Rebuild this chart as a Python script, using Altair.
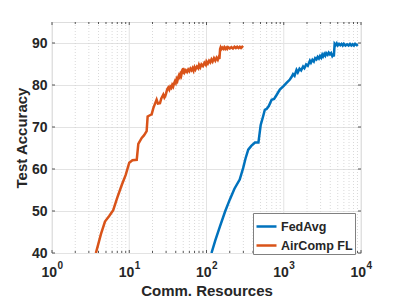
import altair as alt
import pandas as pd

# ---- data ----
aircomp_x = [3.7, 4.3, 4.85, 5.5, 6.2, 7.0, 8.0, 9.0, 10.0, 11.0, 12.5, 13.1, 14.5, 15.5, 16.8, 17.3,
             18.5, 19.5, 20.5, 21.5, 22.6, 23.5, 25, 26, 27.6, 28.5, 29.3,
             30, 31, 32, 33, 34, 35, 36, 37, 38, 39, 40, 41, 42, 43, 44, 45, 46, 47, 48, 49, 50,
             52, 54, 56, 58, 60, 62, 64, 66, 68, 70, 72, 75, 78, 80, 83, 86, 90, 94, 98, 100,
             104, 108, 112, 116, 120, 125, 130, 135, 140, 144, 147, 150, 152, 155, 160, 165,
             170, 175, 180, 185, 190, 200, 210, 220, 230, 240, 250, 260, 270, 280, 290, 298]
aircomp_y = [40.0, 44.5, 47.5, 48.8, 50.2, 53.2, 56.2, 58.6, 61.5, 62.1, 62.2, 66.0, 67.4, 68.0, 69.0, 72.5,
             72.8, 73.0, 74.5, 75.5, 76.5, 75.6, 75.7, 76.8, 77.7, 77.0, 77.4,
             78.0, 79.0, 79.4, 78.9, 79.6, 79.3, 80.0, 79.6, 80.4, 80.9, 80.5, 81.4, 81.0, 81.8, 82.3, 81.9, 82.6, 82.2, 83.0, 82.6, 84.0,
             83.0, 83.5, 83.1, 83.7, 83.3, 83.9, 83.5, 84.0, 83.4, 84.2, 83.7, 84.4, 84.0, 84.8, 84.2, 84.9, 84.5, 85.3, 84.8, 85.6,
             85.1, 85.8, 85.4, 86.1, 85.6, 86.4, 85.8, 86.5, 86.0, 86.6, 86.2, 88.6, 88.9, 88.5, 88.9, 88.6,
             89.0, 88.6, 88.9, 88.6, 89.0, 88.7, 89.0, 88.7, 89.1, 88.8, 89.1, 88.8, 89.1, 88.8, 89.1, 88.9]

fedavg_x = [116, 130, 149, 175, 200, 230, 269, 298, 320, 347, 380, 424, 470, 503, 540, 569, 600, 640,
            697, 750, 800, 890, 1000, 1087, 1200, 1260, 1320, 1380, 1463, 1520, 1600, 1680, 1780,
            1850, 1950, 2050, 2180, 2250, 2350, 2450, 2550, 2650, 2750, 2850, 2950, 3050, 3150, 3230,
            3350, 3450, 3550, 3700, 3820, 3960, 4100, 4250, 4360, 4450, 4560, 4700, 4850, 5000, 5200,
            5400, 5600, 5800, 6000, 6300, 6600, 6900, 7200, 7500, 7800, 8100, 8400, 8800, 9130]
fedavg_y = [40.0, 43.0, 46.3, 50.0, 52.7, 55.3, 57.5, 60.2, 62.5, 64.6, 65.5, 66.3, 66.3, 70.5, 72.5, 74.1, 74.3, 75.0,
            76.5, 76.7, 77.5, 78.9, 79.8, 80.5, 81.3, 81.9, 82.6, 82.2, 83.6, 83.0, 83.9, 83.5, 84.4,
            84.0, 84.9, 84.6, 85.8, 85.3, 86.0, 85.6, 86.4, 86.1, 86.7, 86.3, 86.9, 86.5, 87.2, 86.8,
            87.4, 87.0, 87.6, 87.2, 87.7, 87.3, 87.6, 86.9, 87.2, 86.8, 89.8, 89.5, 89.9, 89.4, 89.8,
            89.5, 89.8, 89.4, 89.8, 89.4, 89.7, 89.4, 89.8, 89.4, 89.7, 89.4, 89.8, 89.5, 89.7]

series_names = ["FedAvg", "AirComp FL"]
series_colors = ["#0072BD", "#D95319"]

major_x = [1, 10, 100, 1000, 10000]
exponents = ["0", "1", "2", "3", "4"]
minor_x = [k * 10 ** e for e in range(4) for k in range(2, 10)]
y_ticks = [40, 50, 60, 70, 80, 90]

# ---- tables ----
df = pd.concat([
    pd.DataFrame({"x": fedavg_x, "y": fedavg_y, "series": "FedAvg"}),
    pd.DataFrame({"x": aircomp_x, "y": aircomp_y, "series": "AirComp FL"}),
])
major_df = pd.DataFrame({"x": major_x, "e": exponents})
minor_df = pd.DataFrame({"x": minor_x})
yt_df = pd.DataFrame({"y": y_ticks})

FONT = "Liberation Sans"
TXT = "#262626"
W, H = 309, 231

xs = alt.Scale(type="log", domain=[1, 10000])
ys = alt.Scale(domain=[40, 95])

X_AXIS = alt.Axis(values=major_x, labels=False, ticks=False, grid=False, domain=False,
                  title="Comm. Resources", titleFont=FONT, titleFontSize=15,
                  titleFontWeight="bold", titleColor=TXT, titlePadding=30)
Y_AXIS = alt.Axis(values=y_ticks, grid=True, gridColor="#e3e3e3", ticks=False, domain=False,
                  labelFont=FONT, labelFontSize=14, labelFontWeight="bold", labelColor=TXT,
                  labelPadding=5, title="Test Accuracy", titleFont=FONT, titleFontSize=15,
                  titleFontWeight="bold", titleColor=TXT, titlePadding=2)


def xenc():
    return alt.X("x:Q", scale=xs, axis=X_AXIS)


def yenc():
    return alt.Y("y:Q", scale=ys, axis=Y_AXIS)


minor_grid = alt.Chart(minor_df).mark_rule(color="#cfcfcf", strokeDash=[1, 2], strokeWidth=0.8).encode(
    x=xenc())
major_grid = alt.Chart(major_df).mark_rule(color="#e3e3e3", strokeWidth=1).encode(x=xenc())

lines = alt.Chart(df).mark_line(strokeWidth=2.5, clip=True).encode(
    x=xenc(),
    y=yenc(),
    color=alt.Color("series:N", scale=alt.Scale(domain=series_names, range=series_colors),
                    legend=alt.Legend(orient="none", legendX=201, legendY=191, title=None,
                                      symbolType="stroke", symbolSize=400, symbolStrokeWidth=2.5,
                                      labelFont=FONT, labelFontSize=12.5, labelFontWeight="bold",
                                      labelColor=TXT, strokeColor="#808080", fillColor="white",
                                      padding=2, rowPadding=1, labelOffset=3)),
)

tick_col = "#555555"
xt_major_b = alt.Chart(major_df).mark_rule(color=tick_col).encode(
    x=xenc(), y=alt.value(H), y2=alt.value(H - 3))
xt_major_t = alt.Chart(major_df).mark_rule(color=tick_col).encode(
    x=xenc(), y=alt.value(0), y2=alt.value(3))
xt_minor_b = alt.Chart(minor_df).mark_rule(color=tick_col).encode(
    x=xenc(), y=alt.value(H), y2=alt.value(H - 2))
xt_minor_t = alt.Chart(minor_df).mark_rule(color=tick_col).encode(
    x=xenc(), y=alt.value(0), y2=alt.value(2))
yt_l = alt.Chart(yt_df).mark_rule(color=tick_col).encode(
    y=yenc(), x=alt.value(0), x2=alt.value(3))
yt_r = alt.Chart(yt_df).mark_rule(color=tick_col).encode(
    y=yenc(), x=alt.value(W), x2=alt.value(W - 3))

lab10 = alt.Chart(major_df).mark_text(align="right", baseline="alphabetic", dx=5, dy=24,
                                      font=FONT, fontSize=14, fontWeight="bold", color=TXT).encode(
    x=xenc(), y=alt.value(H), text=alt.value("10"))
labexp = alt.Chart(major_df).mark_text(align="left", baseline="alphabetic", dx=5.5, dy=16,
                                       font=FONT, fontSize=10, fontWeight="bold", color=TXT).encode(
    x=xenc(), y=alt.value(H), text="e:N")

chart = alt.layer(
    minor_grid, major_grid, lines, xt_major_b, xt_major_t, xt_minor_b, xt_minor_t, yt_l, yt_r,
    lab10, labexp
).properties(
    width=W, height=H, autosize="none",
    padding={"left": 44, "top": 14, "right": 30, "bottom": 46},
).configure_view(stroke="#7a7a7a", strokeWidth=1).configure(background="white")

chart.save("out.html", embed_options={"renderer": "svg", "actions": False})
